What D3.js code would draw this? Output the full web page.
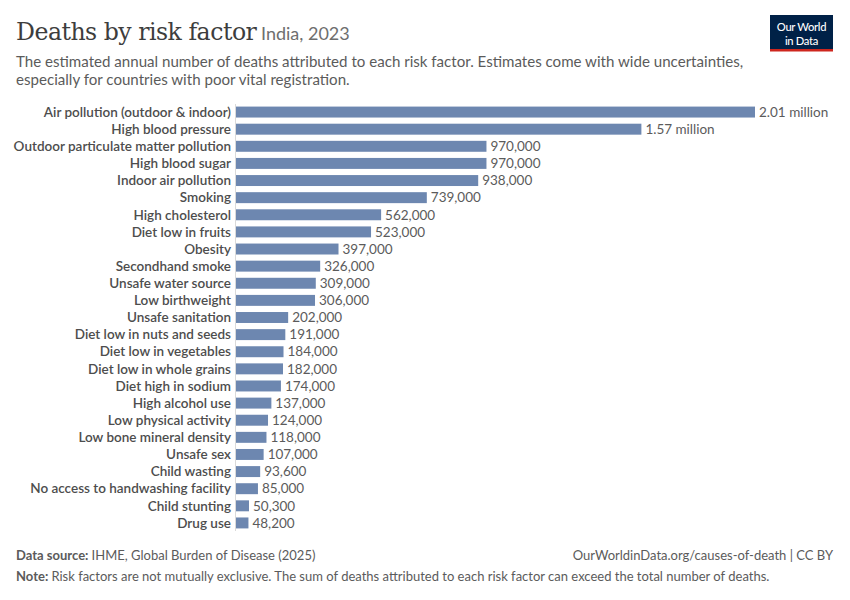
<!DOCTYPE html>
<html><head><meta charset="utf-8">
<script src="https://cdn.jsdelivr.net/npm/d3@7"></script>
<style>
body{margin:0;background:#fff;}
svg{display:block;font-family:Lato, "Noto Sans", sans-serif;}
</style></head>
<body><svg id="c" width="850" height="600"></svg>
<script>
const categories = ["Air pollution (outdoor & indoor)","High blood pressure","Outdoor particulate matter pollution","High blood sugar","Indoor air pollution","Smoking","High cholesterol","Diet low in fruits","Obesity","Secondhand smoke","Unsafe water source","Low birthweight","Unsafe sanitation","Diet low in nuts and seeds","Diet low in vegetables","Diet low in whole grains","Diet high in sodium","High alcohol use","Low physical activity","Low bone mineral density","Unsafe sex","Child wasting","No access to handwashing facility","Child stunting","Drug use"];
const values = [2010000,1570000,970000,970000,938000,739000,562000,523000,397000,326000,309000,306000,202000,191000,184000,182000,174000,137000,124000,118000,107000,93600,85000,50300,48200];
const valueLabels = ["2.01 million","1.57 million","970,000","970,000","938,000","739,000","562,000","523,000","397,000","326,000","309,000","306,000","202,000","191,000","184,000","182,000","174,000","137,000","124,000","118,000","107,000","93,600","85,000","50,300","48,200"];

const svg = d3.select("#c");
const data = categories.map((c,i)=>({c, v:values[i], l:valueLabels[i]}));

// header
const t = svg.append("text").attr("x",16).attr("y",40);
t.append("tspan").text("Deaths by risk factor").attr("font-family","'DejaVu Serif', 'Liberation Serif', serif").attr("font-size",23.6).attr("fill","#3d3d3d").attr("letter-spacing","-0.5");
t.append("tspan").text(" India, 2023").attr("font-size",18).attr("fill","#6e6e6e");
svg.append("text").attr("x",16).attr("y",67).attr("font-size",15.1).attr("fill","#5b5b5b").text("The estimated annual number of deaths attributed to each risk factor. Estimates come with wide uncertainties,");
svg.append("text").attr("x",16).attr("y",85).attr("font-size",15.1).attr("fill","#5b5b5b").text("especially for countries with poor vital registration.");

// logo
const g = svg.append("g").attr("transform","translate(770,15)");
g.append("rect").attr("width",63).attr("height",36).attr("fill","#002147");
g.append("rect").attr("y",34).attr("width",63).attr("height",2.5).attr("fill","#ce261e");
const lt = g.append("text").attr("text-anchor","middle").attr("fill","#fff").attr("font-size",11.2).attr("font-weight",500).attr("letter-spacing","-0.3");
lt.append("tspan").attr("x",31.5).attr("y",15.5).text("Our World");
lt.append("tspan").attr("x",31.5).attr("y",29.5).text("in Data");

// chart
const x0 = 236;
const x = d3.scaleLinear().domain([0, d3.max(values)]).range([x0, 755]);
const y = d3.scaleBand().domain(categories).range([103.5, 531.5]).paddingInner(0.36).paddingOuter(0.18);

svg.append("line").attr("x1",235.5).attr("x2",235.5).attr("y1",104).attr("y2",531).attr("stroke","#dadada").attr("stroke-width",1);

svg.append("g").selectAll("rect").data(data).join("rect")
  .attr("x",x(0)).attr("y",d=>y(d.c)).attr("width",d=>x(d.v)-x(0)).attr("height",y.bandwidth())
  .attr("fill","#6d87b0");

svg.append("g").selectAll("text").data(data).join("text")
  .attr("x",231).attr("y",d=>y(d.c)+y.bandwidth()/2).attr("dy","0.35em")
  .attr("text-anchor","end").attr("font-size",13.5).attr("font-weight",600).attr("fill","#4d4d4d")
  .text(d=>d.c);

svg.append("g").selectAll("text").data(data).join("text")
  .attr("x",d=>x(d.v)+4).attr("y",d=>y(d.c)+y.bandwidth()/2).attr("dy","0.35em")
  .attr("font-size",13.5).attr("fill","#5b5b5b")
  .text(d=>d.l);

// footer
const f1 = svg.append("text").attr("x",16).attr("y",560).attr("font-size",13).attr("fill","#5b5b5b");
f1.append("tspan").attr("font-weight",700).text("Data source: ");
f1.append("tspan").text("IHME, Global Burden of Disease (2025)");
svg.append("text").attr("x",833).attr("y",560).attr("text-anchor","end").attr("font-size",13).attr("fill","#5b5b5b").text("OurWorldinData.org/causes-of-death | CC BY");
const f2 = svg.append("text").attr("x",16).attr("y",581).attr("font-size",13).attr("fill","#5b5b5b");
f2.append("tspan").attr("font-weight",700).text("Note: ");
f2.append("tspan").text("Risk factors are not mutually exclusive. The sum of deaths attributed to each risk factor can exceed the total number of deaths.");
</script></body></html>
